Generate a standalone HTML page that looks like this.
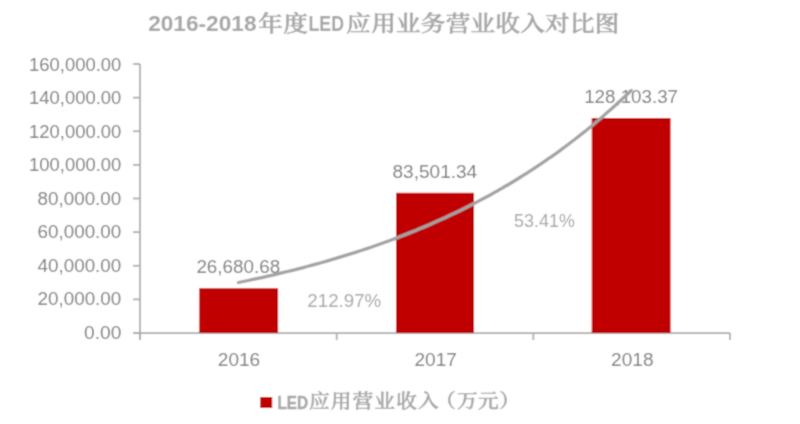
<!DOCTYPE html>
<html><head><meta charset="utf-8"><style>
html,body{margin:0;padding:0;background:#fff;}
svg{display:block;}
.lat{font-family:"Liberation Sans",sans-serif;}
.cjk{font-family:"Liberation Serif","Noto Serif CJK SC",serif;}
</style></head><body>
<svg width="800" height="424" viewBox="0 0 800 424">
<defs><filter id="bl" filterUnits="userSpaceOnUse" x="0" y="0" width="800" height="424"><feConvolveMatrix order="3" kernelMatrix="1 2 1 2 8 2 1 2 1" divisor="20" edgeMode="duplicate" preserveAlpha="false"/></filter></defs>
<g filter="url(#bl)">
<rect width="800" height="424" fill="#fff"/>
<!-- title -->
<g fill="#a6a6a6">
<text class="lat" x="148.2" y="30.6" font-size="22.5" font-weight="bold" textLength="108.3" lengthAdjust="spacingAndGlyphs">2016-2018</text>
<text class="cjk" transform="translate(258.3,31.3) scale(1.12,1)" font-size="22" font-weight="500" letter-spacing="0.2" stroke="#a6a6a6" stroke-width="0.55">年度</text>
<text class="lat" x="308.5" y="30.6" font-size="22" font-weight="bold" textLength="35.5" lengthAdjust="spacingAndGlyphs">LED</text>
<text class="cjk" transform="translate(346.3,31.3) scale(1.12,1)" font-size="22" font-weight="500" letter-spacing="0.2" stroke="#a6a6a6" stroke-width="0.55">应用业务营业收入对比图</text>
</g>
<!-- axes -->
<g stroke="#ababab" stroke-width="1.75" fill="none">
<line x1="140" y1="64" x2="140" y2="340"/>
<line x1="133" y1="333" x2="730" y2="333"/>
<line x1="133" y1="64.00" x2="140" y2="64.00"/><line x1="133" y1="97.62" x2="140" y2="97.62"/><line x1="133" y1="131.25" x2="140" y2="131.25"/><line x1="133" y1="164.88" x2="140" y2="164.88"/><line x1="133" y1="198.50" x2="140" y2="198.50"/><line x1="133" y1="232.12" x2="140" y2="232.12"/><line x1="133" y1="265.75" x2="140" y2="265.75"/><line x1="133" y1="299.38" x2="140" y2="299.38"/><line x1="133" y1="333.00" x2="140" y2="333.00"/>
<line x1="140.00" y1="333" x2="140.00" y2="340"/><line x1="336.67" y1="333" x2="336.67" y2="340"/><line x1="533.33" y1="333" x2="533.33" y2="340"/><line x1="730.00" y1="333" x2="730.00" y2="340"/>
</g>
<!-- y labels -->
<g class="lat" fill="#7c7c7c" font-size="17.5">
<text x="29.1" y="70.6" textLength="92.2" lengthAdjust="spacingAndGlyphs">160,000.00</text><text x="29.1" y="104.1" textLength="92.2" lengthAdjust="spacingAndGlyphs">140,000.00</text><text x="29.1" y="137.7" textLength="92.2" lengthAdjust="spacingAndGlyphs">120,000.00</text><text x="29.1" y="171.2" textLength="92.2" lengthAdjust="spacingAndGlyphs">100,000.00</text><text x="37.5" y="204.8" textLength="83.8" lengthAdjust="spacingAndGlyphs">80,000.00</text><text x="37.5" y="238.3" textLength="83.8" lengthAdjust="spacingAndGlyphs">60,000.00</text><text x="37.5" y="271.9" textLength="83.8" lengthAdjust="spacingAndGlyphs">40,000.00</text><text x="37.5" y="305.4" textLength="83.8" lengthAdjust="spacingAndGlyphs">20,000.00</text><text x="84.1" y="339.0" textLength="37.2" lengthAdjust="spacingAndGlyphs">0.00</text>
</g>
<!-- x labels -->
<g class="lat" fill="#7c7c7c" font-size="17.5">
<text x="217.8" y="365.8" textLength="42.4" lengthAdjust="spacingAndGlyphs">2016</text>
<text x="414.5" y="365.8" textLength="42.4" lengthAdjust="spacingAndGlyphs">2017</text>
<text x="611.1" y="365.8" textLength="42.4" lengthAdjust="spacingAndGlyphs">2018</text>
</g>
<!-- bars -->
<g fill="#c00000">
<rect x="199.2" y="288.2" width="78.9" height="44.8"/>
<rect x="396" y="192.8" width="78" height="140.2"/>
<rect x="591.7" y="118" width="78.9" height="215"/>
</g>
<!-- data labels -->
<g class="lat" fill="#7c7c7c" font-size="17.5">
<text x="196.4" y="273.4" textLength="83.8" lengthAdjust="spacingAndGlyphs">26,680.68</text>
<text x="392.5" y="178.2" textLength="84.7" lengthAdjust="spacingAndGlyphs">83,501.34</text>
<text x="584.2" y="103.2" textLength="93.8" lengthAdjust="spacingAndGlyphs">128,103.37</text>
</g>
<!-- trendline -->
<polyline points="238.4,282.5 243.3,281.5 248.2,280.5 253.1,279.4 258.0,278.4 262.9,277.3 267.9,276.2 272.8,275.1 277.7,273.9 282.6,272.7 287.5,271.5 292.4,270.3 297.3,269.1 302.2,267.8 307.1,266.5 312.1,265.2 317.0,263.9 321.9,262.5 326.8,261.1 331.7,259.7 336.6,258.2 341.5,256.7 346.4,255.2 351.3,253.7 356.2,252.1 361.1,250.5 366.1,248.9 371.0,247.2 375.9,245.5 380.8,243.8 385.7,242.0 390.6,240.2 395.5,238.4 400.4,236.5 405.3,234.6 410.2,232.6 415.2,230.7 420.1,228.6 425.0,226.6 429.9,224.5 434.8,222.3 439.7,220.1 444.6,217.9 449.5,215.6 454.4,213.3 459.4,210.9 464.3,208.5 469.2,206.0 474.1,203.5 479.0,200.9 483.9,198.3 488.8,195.7 493.7,192.9 498.6,190.2 503.5,187.3 508.5,184.5 513.4,181.5 518.3,178.5 523.2,175.4 528.1,172.3 533.0,169.1 537.9,165.9 542.8,162.6 547.7,159.2 552.6,155.8 557.6,152.3 562.5,148.7 567.4,145.0 572.3,141.3 577.2,137.5 582.1,133.6 587.0,129.7 591.9,125.7 596.8,121.6 601.7,117.4 606.6,113.1 611.6,108.8 616.5,104.3 621.4,99.8 626.3,95.2 631.2,90.5" fill="none" stroke="#a3a3a3" stroke-width="3.3" stroke-linecap="round" stroke-linejoin="round"/>
<!-- growth labels -->
<g class="lat" fill="#a6a6a6" font-size="17.5">
<text x="307.3" y="306.9" textLength="74" lengthAdjust="spacingAndGlyphs">212.97%</text>
<text x="514.1" y="227.2" textLength="60.7" lengthAdjust="spacingAndGlyphs">53.41%</text>
</g>
<!-- legend -->
<rect x="260.2" y="397" width="12" height="11" fill="#c00000"/>
<g fill="#a6a6a6">
<text class="lat" x="277.4" y="408.6" font-size="17.5" font-weight="bold" textLength="30.6" lengthAdjust="spacingAndGlyphs" stroke="#a6a6a6" stroke-width="0.35">LED</text>
<g class="cjk" font-size="19.2" font-weight="500" stroke="#a6a6a6" stroke-width="0.5">
<text transform="translate(309,408.2) scale(1.08,1)" letter-spacing="0.985">应用营业收入</text>
<text transform="translate(434.9,408.2) scale(1.08,1)">（</text>
<text transform="translate(457,408.2) scale(1.08,1)">万</text>
<text transform="translate(478.1,408.2) scale(1.08,1)">元</text>
<text transform="translate(499.2,408.2) scale(1.08,1)">）</text>
</g>
</g>
</g>
</svg>
</body></html>
